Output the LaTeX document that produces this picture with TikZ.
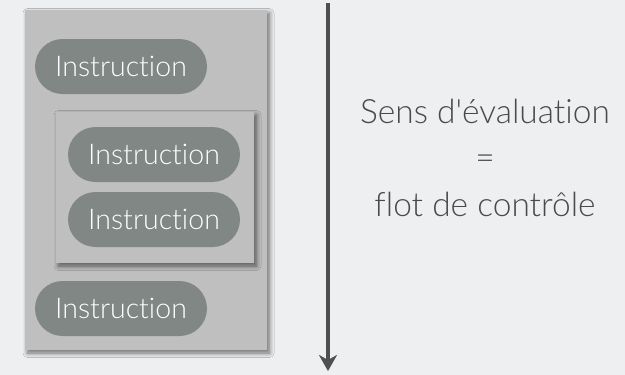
\documentclass[tikz,border=0pt]{standalone}
\usepackage{fontspec}
\setmainfont{Lato}[UprightFont={* Light}, Ligatures={NoCommon}]
\usetikzlibrary{shadows.blur,arrows.meta}
\definecolor{pagebg}{HTML}{EEEFF0}
\definecolor{boxgray}{HTML}{BFBFBF}
\definecolor{pillgray}{HTML}{808784}
\definecolor{arrowgray}{HTML}{4F4F4F}
\definecolor{textgray}{HTML}{4A4A4A}
\tikzset{
  block/.style={fill=boxgray, draw=none,
    blur shadow={shadow xshift=2.5pt, shadow yshift=-3pt, shadow blur radius=4.5pt,
      shadow blur steps=10, shadow opacity=55}},
  instr/.style={fill=pillgray, draw=none, rounded corners=27.5pt,
    text=white, font=\fontsize{28.5}{32}\selectfont, inner sep=0pt},
  caption/.style={text=textgray, font=\fontsize{33.5}{46.5}\selectfont, align=center}
}
\begin{document}
\begin{tikzpicture}[x=1pt,y=-1pt]
  \fill[pagebg] (0,0) rectangle (625,375);
  \useasboundingbox (0,0) rectangle (625,375);
  % outer block
  \path[block] (25,10) rectangle (267,350);
  % nested block
  \path[block] (56,112) rectangle (254,263);
  % statements
  \node[instr, minimum width=172pt, minimum height=55pt] (i1) at (121,66.5) {Instruction};
  \node[instr, minimum width=172pt, minimum height=55pt] (i2) at (154,154.5) {Instruction};
  \node[instr, minimum width=172pt, minimum height=55pt] (i3) at (154,219.5) {Instruction};
  \node[instr, minimum width=172pt, minimum height=55pt] (i4) at (121,308.5) {Instruction};
  % direction of evaluation
  \coordinate (top) at (328,3);
  \coordinate (bottom) at (328,371);
  \draw[arrowgray, line width=3.3pt, -{Stealth[length=16pt, width=18pt, inset=5pt]}] (top) -- (bottom);
  \node[caption] (cap) at (485,157.5) {Sens d\textquotesingle évaluation\\=\\flot de contrôle};
\end{tikzpicture}
\end{document}
